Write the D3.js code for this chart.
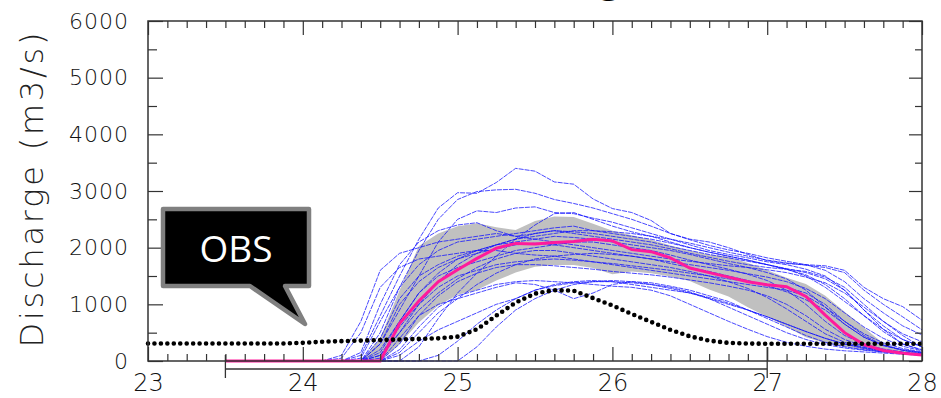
<!DOCTYPE html>
<html>
<head>
<meta charset="utf-8">
<script src="https://cdn.jsdelivr.net/npm/d3@7"></script>
<style>
  body { margin: 0; background: #fff; }
  svg { display: block; }
  .tick line { stroke: #333; stroke-width: 1.2; }
  .xlab text { font-family: "DejaVu Sans", sans-serif; font-weight: 200; font-size: 24px; fill: #111; }
  .ylab text { font-family: "DejaVu Sans", sans-serif; font-weight: 200; font-size: 22px; fill: #111; letter-spacing: 1px; }
</style>
</head>
<body>
<div id="chart"></div>
<script>
var svgWidth = 941;
var svgHeight = 398;

var margin = {top: 21, right: 19, bottom: 37, left: 148};
var width = svgWidth - margin.left - margin.right;
var height = svgHeight - margin.top - margin.bottom;

// time grid (days), 3-hourly
var obsDays = d3.range(23, 28.001, 0.125);
var fcstDays = d3.range(23.5, 28.001, 0.125);
var xTicks = [23, 24, 25, 26, 27, 28];
var yTicks = [0, 1000, 2000, 3000, 4000, 5000, 6000];
var spanDays = [23.5, 27];

// observed discharge (m3/s)
var obs = [310, 310, 310, 310, 310, 310, 310, 310, 320, 340, 350, 360, 370, 380, 390, 400,
  430, 560, 800, 1030, 1190, 1250, 1240, 1110, 980, 830, 690, 550, 435, 360, 320, 308,
  305, 305, 305, 305, 305, 305, 305, 305, 305];

// ensemble median and spread band
var median = [0, 0, 0, 0, 0, 0, 0, 0, 0, 660, 1060, 1400, 1610, 1810, 1990, 2075, 2065, 2090, 2110,
  2150, 2120, 1965, 1930, 1820, 1640, 1560, 1480, 1400, 1345, 1311, 1140, 810, 500, 290, 185, 135, 105];
var bandLow = [0, 0, 0, 0, 0, 0, 0, 0, 0, 300, 680, 980, 1170, 1255, 1420, 1560, 1665, 1695, 1695,
  1640, 1530, 1580, 1550, 1490, 1410, 1260, 1140, 950, 780, 606, 420, 315, 250, 205, 165, 140, 120];
var bandHigh = [0, 0, 0, 0, 0, 0, 0, 0, 400, 1250, 2030, 2250, 2380, 2430, 2360, 2310, 2470, 2550, 2540,
  2420, 2300, 2220, 2140, 2040, 1950, 1880, 1840, 1730, 1600, 1470, 1360, 1150, 870, 590, 310, 195, 140];

// ensemble members
var members = [
  [0, 0, 0, 0, 0, 0, 0, 100, 800, 1500, 2150, 2700, 2970, 2960, 3150, 3400, 3350, 3160, 3120, 2860, 2690, 2620, 2480, 2250, 2150, 2100, 2000, 1880, 1770, 1720, 1700, 1680, 1600, 1300, 1100, 960, 720],
  [0, 0, 0, 0, 0, 0, 0, 0, 500, 1300, 1950, 2500, 2850, 2990, 3020, 3030, 2960, 2850, 2780, 2700, 2600, 2500, 2380, 2250, 2140, 2040, 1960, 1900, 1820, 1760, 1700, 1600, 1400, 1100, 850, 620, 460],
  [0, 0, 0, 0, 0, 0, 0, 0, 300, 900, 1500, 2100, 2500, 2650, 2620, 2700, 2720, 2620, 2600, 2520, 2450, 2350, 2250, 2150, 2050, 1950, 1880, 1820, 1750, 1700, 1620, 1500, 1250, 900, 620, 380, 250],
  [0, 0, 0, 0, 0, 0, 0, 0, 0, 0, 250, 750, 1200, 1550, 1850, 2150, 2400, 2600, 2620, 2500, 2380, 2280, 2200, 2100, 2000, 1920, 1850, 1780, 1700, 1620, 1500, 1300, 1050, 800, 560, 380, 250],
  [0, 0, 0, 0, 0, 0, 0, 150, 1000, 1700, 2100, 2300, 2400, 2440, 2300, 2200, 2250, 2300, 2280, 2250, 2200, 2150, 2100, 2020, 1950, 1880, 1820, 1760, 1700, 1620, 1520, 1350, 1100, 800, 520, 300, 200],
  [0, 0, 0, 0, 0, 0, 100, 700, 1600, 1900, 2000, 2100, 2150, 2200, 2250, 2200, 2150, 2100, 2050, 2000, 1950, 1900, 1850, 1800, 1760, 1720, 1680, 1650, 1610, 1560, 1480, 1380, 1200, 950, 700, 480, 340],
  [0, 0, 0, 0, 0, 0, 0, 0, 0, 0, 0, 100, 350, 650, 900, 1100, 1250, 1330, 1380, 1400, 1400, 1350, 1300, 1250, 1200, 1120, 1020, 900, 780, 650, 520, 400, 300, 220, 170, 140, 110],
  [0, 0, 0, 0, 0, 0, 0, 0, 0, 100, 350, 550, 700, 850, 1000, 1100, 1250, 1350, 1400, 1420, 1400, 1380, 1350, 1300, 1220, 1100, 950, 800, 650, 500, 380, 290, 230, 190, 160, 140, 120],
  [0, 0, 0, 0, 0, 0, 0, 0, 400, 1100, 1500, 1700, 1850, 1950, 2050, 2100, 2150, 2200, 2180, 2150, 2100, 2050, 2000, 1950, 1880, 1800, 1720, 1650, 1560, 1450, 1250, 950, 650, 420, 280, 200, 150],
  [0, 0, 0, 0, 0, 0, 0, 0, 150, 700, 1200, 1500, 1650, 1750, 1850, 1950, 2000, 2050, 2100, 2100, 2050, 2000, 1950, 1870, 1780, 1700, 1620, 1530, 1420, 1250, 1000, 700, 450, 300, 210, 160, 120],
  [0, 0, 0, 0, 0, 0, 0, 0, 50, 500, 900, 1200, 1450, 1650, 1800, 1900, 1950, 1950, 1900, 1850, 1800, 1750, 1700, 1650, 1580, 1500, 1400, 1280, 1120, 920, 700, 480, 330, 240, 180, 140, 110],
  [0, 0, 0, 0, 0, 0, 0, 0, 100, 600, 1000, 1300, 1500, 1600, 1700, 1750, 1780, 1800, 1780, 1750, 1720, 1680, 1640, 1600, 1550, 1500, 1450, 1400, 1350, 1300, 1200, 1000, 700, 450, 280, 190, 140],
  [0, 0, 0, 0, 0, 0, 0, 0, 0, 300, 800, 1150, 1400, 1550, 1650, 1700, 1700, 1680, 1650, 1620, 1580, 1550, 1520, 1480, 1430, 1380, 1320, 1250, 1150, 1000, 800, 560, 380, 260, 190, 150, 120],
  [0, 0, 0, 0, 0, 0, 0, 50, 700, 1300, 1700, 1950, 2100, 2150, 2200, 2250, 2300, 2350, 2380, 2300, 2250, 2200, 2150, 2080, 2000, 1920, 1850, 1780, 1700, 1630, 1560, 1450, 1250, 900, 560, 300, 190],
  [0, 0, 0, 0, 0, 0, 0, 0, 0, 200, 600, 950, 1150, 1250, 1350, 1400, 1420, 1400, 1380, 1350, 1320, 1300, 1250, 1150, 1000, 850, 700, 560, 430, 330, 260, 210, 180, 160, 140, 120, 100],
  [0, 0, 0, 0, 0, 0, 0, 0, 200, 700, 1200, 1550, 1800, 1950, 2050, 2150, 2200, 2250, 2300, 2300, 2280, 2250, 2200, 2150, 2080, 2000, 1920, 1850, 1780, 1730, 1690, 1650, 1560, 1250, 1000, 780, 550],
  [0, 0, 0, 0, 0, 0, 0, 0, 0, 150, 500, 850, 1100, 1350, 1550, 1700, 1800, 1850, 1880, 1900, 1880, 1850, 1800, 1750, 1700, 1650, 1600, 1540, 1480, 1400, 1280, 1100, 850, 600, 400, 260, 180],
  [0, 0, 0, 0, 0, 0, 0, 0, 0, 400, 800, 1000, 1100, 1200, 1300, 1380, 1350, 1250, 1100, 1200, 1350, 1400, 1380, 1320, 1250, 1150, 1050, 900, 750, 600, 450, 330, 250, 200, 160, 130, 110],
  [0, 0, 0, 0, 0, 0, 0, 0, 300, 1000, 1400, 1650, 1800, 1900, 1980, 2050, 2080, 2050, 2000, 1950, 1900, 1850, 1800, 1720, 1650, 1580, 1500, 1420, 1330, 1220, 1080, 900, 650, 420, 270, 190, 140],
  [0, 0, 0, 0, 0, 0, 0, 0, 100, 500, 1000, 1400, 1700, 1900, 2050, 2150, 2250, 2300, 2250, 2200, 2150, 2100, 2050, 1980, 1900, 1830, 1760, 1700, 1650, 1620, 1580, 1480, 1300, 1000, 700, 450, 240],
  [0, 0, 0, 0, 0, 0, 50, 500, 1300, 1650, 1800, 1850, 1900, 1950, 1950, 1900, 1870, 1850, 1800, 1750, 1700, 1650, 1600, 1550, 1500, 1450, 1400, 1350, 1300, 1250, 1150, 950, 700, 480, 320, 220, 160],
  [0, 0, 0, 0, 0, 0, 0, 0, 0, 0, 0, 0, 0, 250, 600, 900, 1100, 1250, 1350, 1400, 1420, 1400, 1350, 1280, 1200, 1100, 1000, 900, 780, 650, 520, 400, 300, 230, 180, 140, 110]
];

var svg = d3.select("#chart")
  .append("svg")
  .attr("width", svgWidth)
  .attr("height", svgHeight);

var chart = svg.append("g")
  .attr("transform", `translate(${margin.left}, ${margin.top})`);

var x = d3.scaleLinear().domain([23, 28]).range([0, width]);
var y = d3.scaleLinear().domain([0, 6000]).range([height, 0]);

// cut-off title at the top edge
svg.append("text")
  .attr("x", 610)
  .attr("y", -8)
  .attr("text-anchor", "middle")
  .style("font-family", "DejaVu Sans, sans-serif")
  .style("font-size", "44px")
  .text("g");

// spread band
var band = d3.area()
  .x((d, i) => x(fcstDays[i]))
  .y0((d, i) => y(bandLow[i]))
  .y1((d, i) => y(bandHigh[i]));

chart.append("path")
  .datum(bandHigh)
  .attr("d", band)
  .attr("fill", "#c0c0c0");

var fcstLine = d3.line()
  .x((d, i) => x(fcstDays[i]))
  .y(d => y(d));

chart.selectAll("path.member")
  .data(members)
  .enter()
  .append("path")
  .attr("class", "member")
  .attr("d", fcstLine)
  .attr("fill", "none")
  .attr("stroke", "#1010ff")
  .attr("stroke-width", 0.9)
  .attr("stroke-opacity", 0.85)
  .attr("stroke-dasharray", "5,1");

chart.append("path")
  .datum(median)
  .attr("d", fcstLine)
  .attr("fill", "none")
  .attr("stroke", "#ff1a9c")
  .attr("stroke-width", 3);

var obsLine = d3.line()
  .x((d, i) => x(obsDays[i]))
  .y(d => y(d));

chart.append("path")
  .datum(obs)
  .attr("d", obsLine)
  .attr("fill", "none")
  .attr("stroke", "#000")
  .attr("stroke-width", 4.6)
  .attr("stroke-linecap", "round")
  .attr("stroke-dasharray", "0,6.45");

// axes, ticks pointing inward
var minorX = d3.range(23, 28.001, 0.125).filter(d => d % 1 !== 0);
var minorY = [500, 1500, 2500, 3500, 4500, 5500];

chart.append("g")
  .attr("class", "xlab")
  .attr("transform", `translate(0, ${height})`)
  .call(d3.axisBottom(x).tickValues(xTicks).tickSize(-14).tickPadding(13).tickFormat(d3.format("d")));
chart.append("g")
  .attr("transform", `translate(0, ${height})`)
  .call(d3.axisBottom(x).tickValues(minorX).tickSize(-7).tickFormat(""));
chart.append("g")
  .call(d3.axisTop(x).tickValues(xTicks).tickSize(-14).tickFormat(""));
chart.append("g")
  .call(d3.axisTop(x).tickValues(minorX).tickSize(-7).tickFormat(""));

chart.append("g")
  .attr("class", "ylab")
  .call(d3.axisLeft(y).tickValues(yTicks).tickSize(-15).tickPadding(19).tickFormat(d3.format("d")));
chart.append("g")
  .call(d3.axisLeft(y).tickValues(minorY).tickSize(-9).tickFormat(""));
chart.append("g")
  .attr("transform", `translate(${width}, 0)`)
  .call(d3.axisRight(y).tickValues(yTicks).tickSize(-13).tickFormat(""));
chart.append("g")
  .attr("transform", `translate(${width}, 0)`)
  .call(d3.axisRight(y).tickValues(minorY).tickSize(-7).tickFormat(""));

chart.selectAll(".domain").remove();

chart.append("rect")
  .attr("width", width)
  .attr("height", height)
  .attr("fill", "none")
  .attr("stroke", "#333")
  .attr("stroke-width", 1.5);

// forecast span bracket under the axis
var spanG = chart.append("g")
  .attr("stroke", "#333")
  .attr("stroke-width", 1.3);
spanG.append("line")
  .attr("x1", x(spanDays[0])).attr("x2", x(spanDays[1]))
  .attr("y1", height + 8).attr("y2", height + 8);
spanG.append("line")
  .attr("x1", x(spanDays[0])).attr("x2", x(spanDays[0]))
  .attr("y1", height - 6).attr("y2", height + 17);
spanG.append("line")
  .attr("x1", x(spanDays[1])).attr("x2", x(spanDays[1]))
  .attr("y1", height - 14).attr("y2", height + 17);

// y axis title
svg.append("text")
  .attr("transform", "translate(43, 190) rotate(-90)")
  .attr("text-anchor", "middle")
  .attr("textLength", 315)
  .attr("lengthAdjust", "spacing")
  .style("font-family", "DejaVu Sans, sans-serif")
  .style("font-weight", 200)
  .style("font-size", "32px")
  .style("fill", "#222")
  .text("Discharge (m3/s)");

// OBS callout
svg.append("path")
  .attr("d", "M163,209 H309 V286 H285 L305,324 L250,286 H163 Z")
  .attr("fill", "#000")
  .attr("stroke", "#808080")
  .attr("stroke-width", 4.5)
  .attr("stroke-linejoin", "round");

svg.append("text")
  .attr("x", 236)
  .attr("y", 262)
  .attr("text-anchor", "middle")
  .style("font-family", "Open Sans, sans-serif")
  .style("font-size", "37px")
  .style("fill", "#fff")
  .text("OBS");
</script>
</body>
</html>
